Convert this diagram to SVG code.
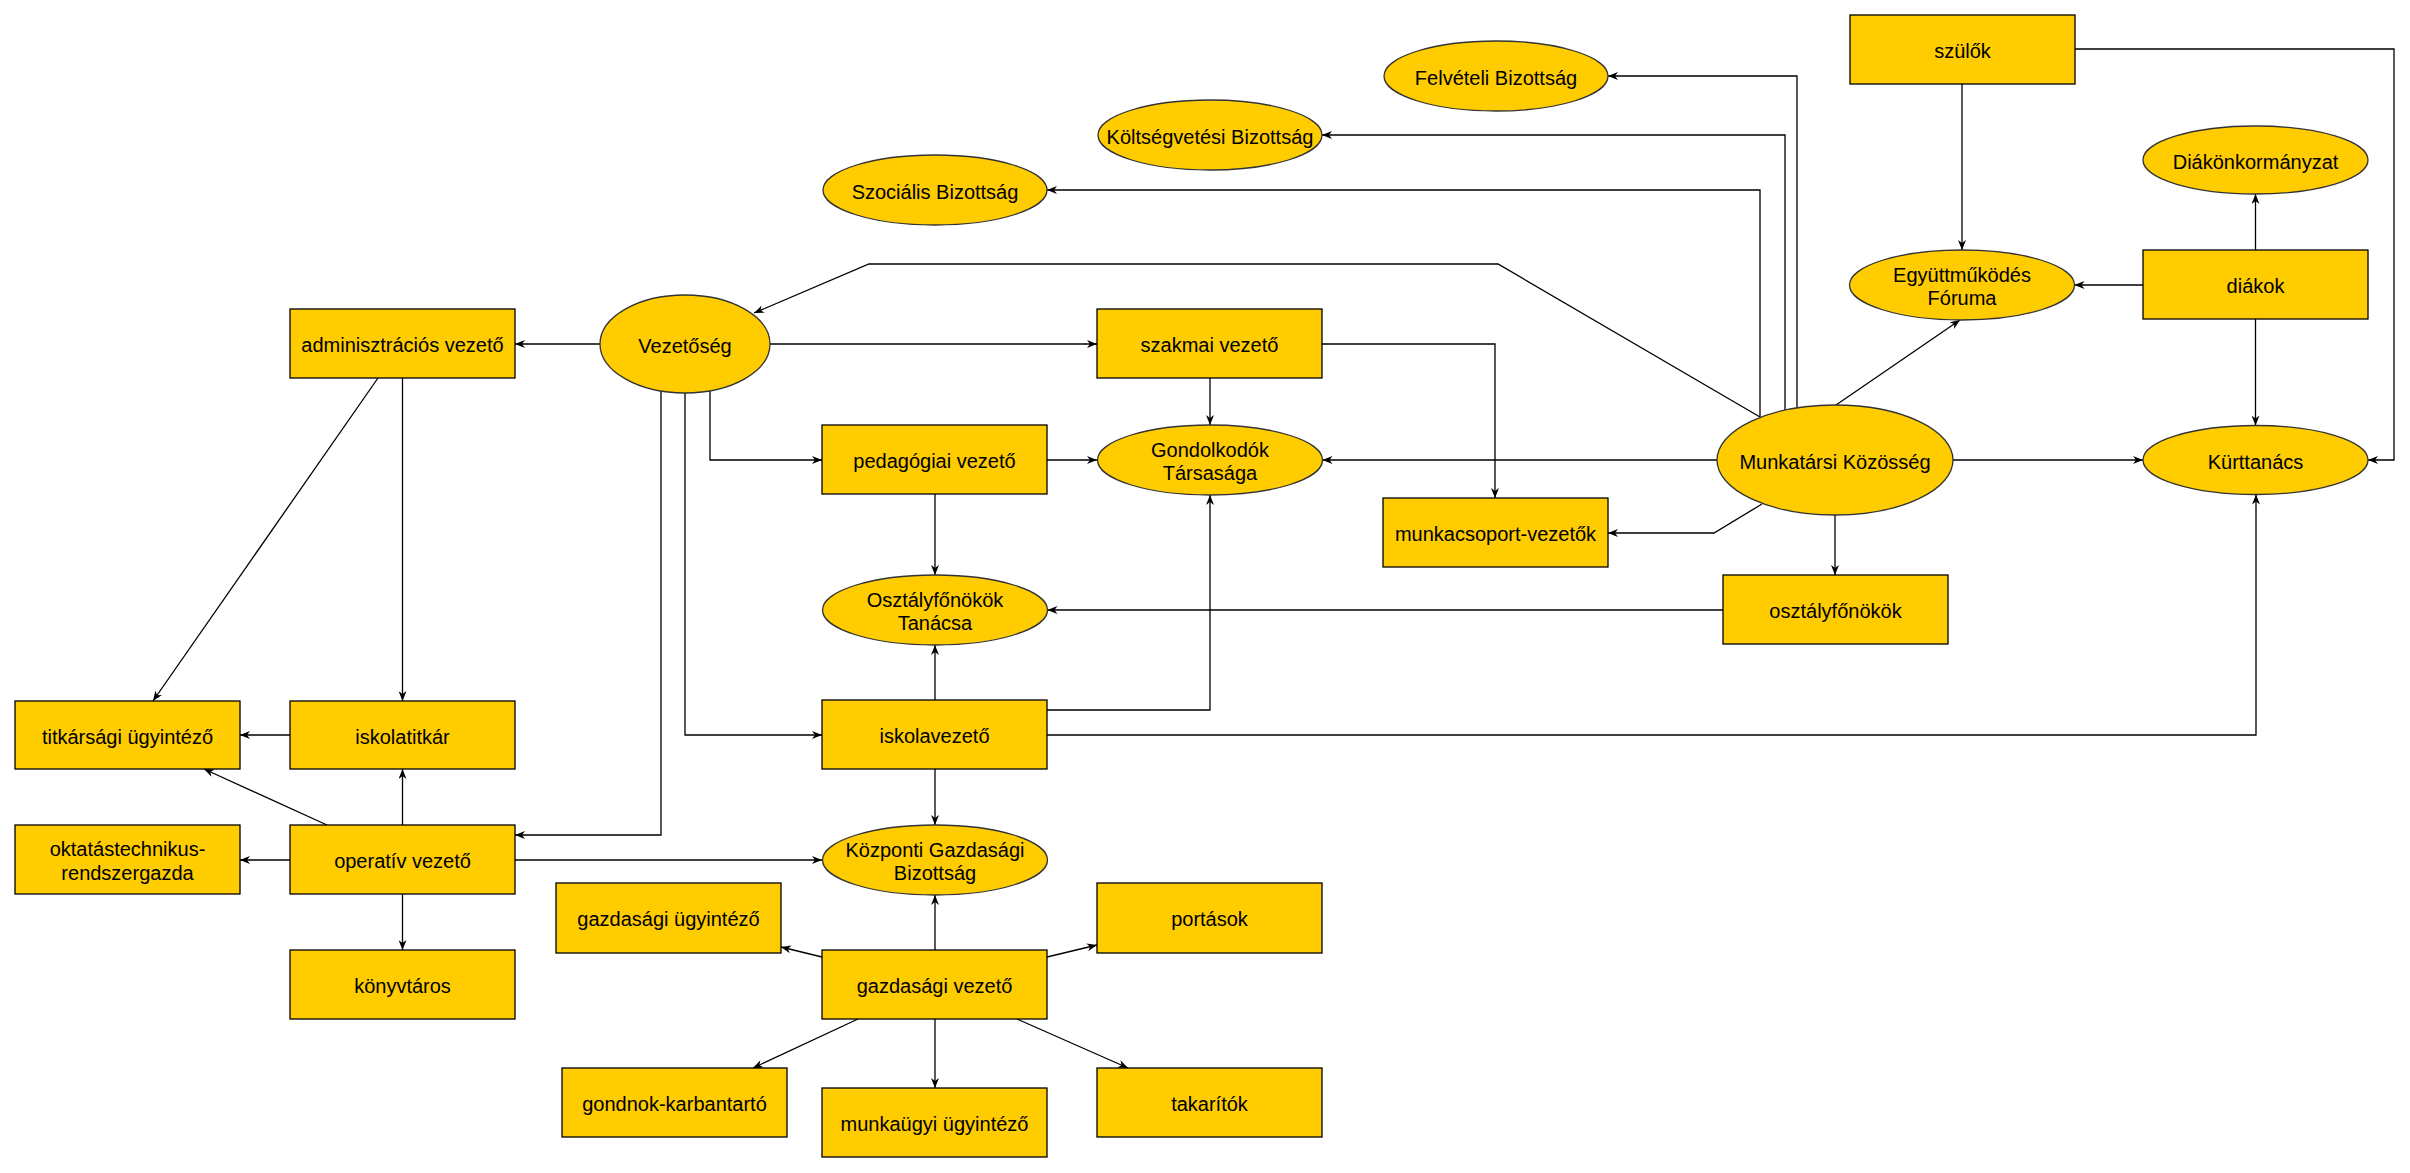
<svg xmlns="http://www.w3.org/2000/svg" width="2410" height="1173" viewBox="0 0 2410 1173">
<style>
.n rect,.n ellipse{fill:#FFCC00;stroke:#000;stroke-width:1.3}
.n ellipse{stroke:#333}
text{font-family:"Liberation Sans",Arial,sans-serif;font-size:20px;fill:#000;text-anchor:middle;dominant-baseline:central}
#edges path{fill:none;stroke:#000;stroke-width:1.3;marker-end:url(#a)}
</style>
<defs>
<marker id="a" viewBox="0 0 10 8" refX="10" refY="4" markerWidth="10" markerHeight="8" markerUnits="userSpaceOnUse" orient="auto"><path d="M0,0 L10,4 L0,8 L3,4 Z" fill="#000"/></marker>
</defs>
<rect width="2410" height="1173" fill="#fff"/>
<g id="edges">
<path d="M600,344 H515"/>
<path d="M770,344 H1097"/>
<path d="M710,391 V460 H822"/>
<path d="M685,393 V735 H822"/>
<path d="M661,391 V835 H515"/>
<path d="M378,378 L153,701"/>
<path d="M402.5,378 V701"/>
<path d="M290,735 H240"/>
<path d="M327,825 L204,769"/>
<path d="M402.5,825 V769"/>
<path d="M290,860 H240"/>
<path d="M402.5,894 V950"/>
<path d="M515,860 H822"/>
<path d="M1210,378 V425"/>
<path d="M1322,344 H1495 V498"/>
<path d="M1047,460 H1097"/>
<path d="M935,494 V575"/>
<path d="M935,700 V645"/>
<path d="M1047,710 H1210 V495"/>
<path d="M1047,735 H2256 V494.5"/>
<path d="M935,769 V825"/>
<path d="M1717,460 H1322.5"/>
<path d="M1762,504 L1714,533 H1608"/>
<path d="M1835,514.5 V575"/>
<path d="M1723,610 H1047.5"/>
<path d="M1953,460 H2143"/>
<path d="M1836,405 L1960,320"/>
<path d="M1760,417 L1498,264 H869 L754,313"/>
<path d="M1760,417 V190 H1047"/>
<path d="M1785,410 V135 H1322"/>
<path d="M1797,408 V76 H1608"/>
<path d="M1962,84 V250"/>
<path d="M2075,49 H2394 V460 H2368"/>
<path d="M2143,285 H2074.5"/>
<path d="M2255.5,250 V194"/>
<path d="M2255.5,319 V425.5"/>
<path d="M935,950 V895"/>
<path d="M822,957 L781,947"/>
<path d="M1047,957 L1097,945"/>
<path d="M858,1019 L753,1068"/>
<path d="M935,1019 V1088"/>
<path d="M1017,1019 L1128,1068"/>
</g>
<g id="vezetoseg" class="n"><ellipse cx="685" cy="344" rx="85" ry="49"/><text x="685" y="346">Vezetőség</text></g>
<g id="admin" class="n"><rect x="290" y="309" width="225" height="69"/><text x="402.5" y="345">adminisztrációs vezető</text></g>
<g id="titkarsagi" class="n"><rect x="15" y="701" width="225" height="68"/><text x="127.5" y="737">titkársági ügyintéző</text></g>
<g id="iskolatitkar" class="n"><rect x="290" y="701" width="225" height="68"/><text x="402.5" y="737">iskolatitkár</text></g>
<g id="oktatas" class="n"><rect x="15" y="825" width="225" height="69"/><text x="127.5" y="849">oktatástechnikus-</text><text x="127.5" y="873">rendszergazda</text></g>
<g id="operativ" class="n"><rect x="290" y="825" width="225" height="69"/><text x="402.5" y="861">operatív vezető</text></g>
<g id="konyvtaros" class="n"><rect x="290" y="950" width="225" height="69"/><text x="402.5" y="986">könyvtáros</text></g>
<g id="szakmai" class="n"><rect x="1097" y="309" width="225" height="69"/><text x="1209.5" y="345">szakmai vezető</text></g>
<g id="pedagogiai" class="n"><rect x="822" y="425" width="225" height="69"/><text x="934.5" y="461">pedagógiai vezető</text></g>
<g id="iskolavezeto" class="n"><rect x="822" y="700" width="225" height="69"/><text x="934.5" y="736">iskolavezető</text></g>
<g id="munkacsoport" class="n"><rect x="1383" y="498" width="225" height="69"/><text x="1495.5" y="534">munkacsoport-vezetők</text></g>
<g id="osztalyfonokok" class="n"><rect x="1723" y="575" width="225" height="69"/><text x="1835.5" y="611">osztályfőnökök</text></g>
<g id="szulok" class="n"><rect x="1850" y="15" width="225" height="69"/><text x="1962.5" y="51">szülők</text></g>
<g id="diakok" class="n"><rect x="2143" y="250" width="225" height="69"/><text x="2255.5" y="286">diákok</text></g>
<g id="gazd-ugyintezo" class="n"><rect x="556" y="883" width="225" height="70"/><text x="668.5" y="919">gazdasági ügyintéző</text></g>
<g id="portasok" class="n"><rect x="1097" y="883" width="225" height="70"/><text x="1209.5" y="919">portások</text></g>
<g id="gazd-vezeto" class="n"><rect x="822" y="950" width="225" height="69"/><text x="934.5" y="986">gazdasági vezető</text></g>
<g id="gondnok" class="n"><rect x="562" y="1068" width="225" height="69"/><text x="674.5" y="1104">gondnok-karbantartó</text></g>
<g id="munkaugyi" class="n"><rect x="822" y="1088" width="225" height="69"/><text x="934.5" y="1124">munkaügyi ügyintéző</text></g>
<g id="takaritok" class="n"><rect x="1097" y="1068" width="225" height="69"/><text x="1209.5" y="1104">takarítók</text></g>
<g id="felveteli" class="n"><ellipse cx="1496" cy="76" rx="112" ry="35"/><text x="1496" y="78">Felvételi Bizottság</text></g>
<g id="koltsegvetesi" class="n"><ellipse cx="1210" cy="135" rx="112" ry="35"/><text x="1210" y="137">Költségvetési Bizottság</text></g>
<g id="szocialis" class="n"><ellipse cx="935" cy="190" rx="112" ry="35"/><text x="935" y="192">Szociális Bizottság</text></g>
<g id="gondolkodok" class="n"><ellipse cx="1210" cy="460" rx="112.5" ry="35"/><text x="1210" y="450">Gondolkodók</text><text x="1210" y="473">Társasága</text></g>
<g id="ofo-tanacs" class="n"><ellipse cx="935" cy="610" rx="112.5" ry="35"/><text x="935" y="600">Osztályfőnökök</text><text x="935" y="623">Tanácsa</text></g>
<g id="kozponti" class="n"><ellipse cx="935" cy="860" rx="112.5" ry="35"/><text x="935" y="850">Központi Gazdasági</text><text x="935" y="873">Bizottság</text></g>
<g id="egyuttmukodes" class="n"><ellipse cx="1962" cy="285" rx="112.5" ry="35"/><text x="1962" y="275">Együttműködés</text><text x="1962" y="298">Fóruma</text></g>
<g id="diakonkormanyzat" class="n"><ellipse cx="2255.5" cy="160" rx="112.5" ry="34"/><text x="2255.5" y="162">Diákönkormányzat</text></g>
<g id="kurttanacs" class="n"><ellipse cx="2255.5" cy="460" rx="112.5" ry="34.5"/><text x="2255.5" y="462">Kürttanács</text></g>
<g id="munkatarsi" class="n"><ellipse cx="1835" cy="460" rx="118" ry="55"/><text x="1835" y="462">Munkatársi Közösség</text></g>
</svg>
